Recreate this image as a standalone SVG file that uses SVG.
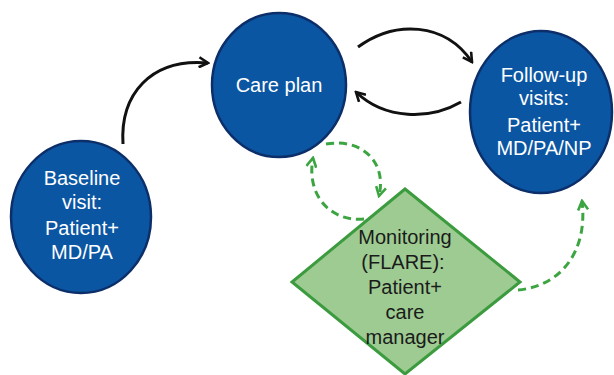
<svg xmlns="http://www.w3.org/2000/svg" width="614" height="375" viewBox="0 0 614 375">
  <style>
    .circle { fill: #0b56a3; stroke: #0c2f6a; stroke-width: 2.5; }
    .diamond { fill: #9dcb91; stroke: #3b9b3e; stroke-width: 3; }
    .lbl { font-family: "Liberation Sans", Arial, sans-serif; font-size: 20px; text-anchor: middle; }
    .white { fill: #ffffff; }
    .dark { fill: #1b1b1b; }
    .solid { fill: none; stroke: #111111; stroke-width: 3; }
    .dashed { fill: none; stroke: #3ca542; stroke-width: 3; stroke-dasharray: 8 5; }
  </style>
  <defs>
    <marker id="arrowBlack" viewBox="0 0 12 12" refX="10" refY="6" markerWidth="12" markerHeight="12" markerUnits="userSpaceOnUse" orient="auto">
      <polyline points="1,1 10,6 1,11" fill="none" stroke="#111111" stroke-width="2.6" stroke-linejoin="miter"/>
    </marker>
    <marker id="arrowGreen" viewBox="0 0 12 12" refX="10" refY="6" markerWidth="12" markerHeight="12" markerUnits="userSpaceOnUse" orient="auto">
      <polyline points="1,1 10,6 1,11" fill="none" stroke="#3ca542" stroke-width="2.6" stroke-linejoin="miter"/>
    </marker>
  </defs>

  <g id="baseline">
    <ellipse class="circle" cx="81" cy="217" rx="70" ry="76"/>
    <text class="lbl white" x="82" y="185">Baseline</text>
    <text class="lbl white" x="82" y="209">visit:</text>
    <text class="lbl white" x="82" y="235">Patient+</text>
    <text class="lbl white" x="82" y="259">MD/PA</text>
  </g>

  <g id="care-plan">
    <ellipse class="circle" cx="279" cy="85" rx="67" ry="72"/>
    <text class="lbl white" x="279" y="92">Care plan</text>
  </g>

  <g id="follow-up">
    <ellipse class="circle" cx="541" cy="112" rx="71" ry="81"/>
    <text class="lbl white" x="544" y="82">Follow-up</text>
    <text class="lbl white" x="544" y="105">visits:</text>
    <text class="lbl white" x="544" y="132">Patient+</text>
    <text class="lbl white" x="544" y="155">MD/PA/NP</text>
  </g>

  <g id="monitoring">
    <polygon class="diamond" points="405,189 520,282 405,374 292,282"/>
    <text class="lbl dark" x="405" y="244">Monitoring</text>
    <text class="lbl dark" x="403" y="269">(FLARE):</text>
    <text class="lbl dark" x="405" y="294">Patient+</text>
    <text class="lbl dark" x="405" y="319">care</text>
    <text class="lbl dark" x="405" y="344">manager</text>
  </g>

  <g id="connectors">
    <path class="solid" d="M123,144 C120,95 150,58 208,63" marker-end="url(#arrowBlack)"/>
    <path class="solid" d="M358,47 C395,20 445,22 472,62" marker-end="url(#arrowBlack)"/>
    <path class="solid" d="M461,102 C430,120 385,120 356,92" marker-end="url(#arrowBlack)"/>
    <path class="dashed" d="M326,144 C362,138 387,162 379,196" marker-end="url(#arrowGreen)"/>
    <path class="dashed" d="M364,219 C330,222 306,195 313,158" marker-end="url(#arrowGreen)"/>
    <path class="dashed" d="M518,290 C562,286 588,250 582,201" marker-end="url(#arrowGreen)"/>
  </g>
</svg>
